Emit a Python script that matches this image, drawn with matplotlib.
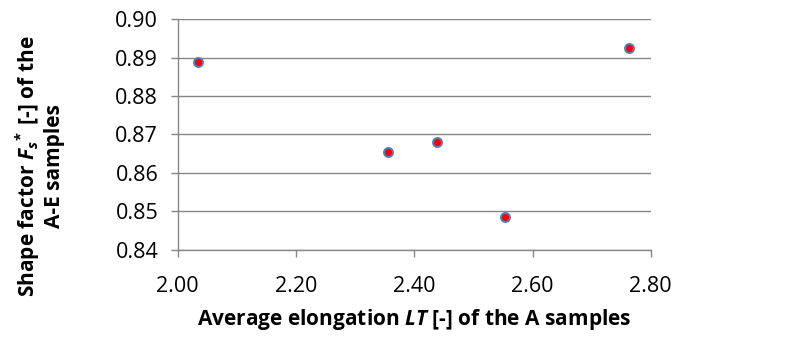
import matplotlib
matplotlib.use("Agg")
import matplotlib.pyplot as plt

plt.rcParams['font.family'] = ['Open Sans', 'DejaVu Sans']
plt.rcParams['mathtext.fontset'] = 'custom'
plt.rcParams['mathtext.rm'] = 'Open Sans:bold'
plt.rcParams['mathtext.bf'] = 'Open Sans:bold'
plt.rcParams['mathtext.it'] = 'Open Sans:bold:italic'
plt.rcParams['mathtext.bfit'] = 'Open Sans:bold:italic'

# elongation LT of the A samples vs shape factor Fs*
elongation = [2.035, 2.356, 2.439, 2.553, 2.763]
shape_factor = [0.8889, 0.8653, 0.8680, 0.8484, 0.8926]

xticks = [2.00, 2.20, 2.40, 2.60, 2.80]
yticks = [0.84, 0.85, 0.86, 0.87, 0.88, 0.89, 0.90]

grey = '#868686'

fig = plt.figure(figsize=(7.86, 3.41), dpi=100)
ax = fig.add_axes([0.226, 0.268, 0.602, 0.676])

ax.scatter(elongation, shape_factor, s=42, c='#ff0000',
           edgecolors='#4f81bd', linewidths=1.4, zorder=3)

ax.set_xlim(2.0, 2.8)
ax.set_ylim(0.84, 0.90)
ax.set_xticks(xticks)
ax.set_xticklabels(['%.2f' % v for v in xticks])
ax.set_yticks(yticks)
ax.set_yticklabels(['%.2f' % v for v in yticks])
ax.yaxis.grid(True, color=grey, linewidth=1.0)
ax.set_axisbelow(True)

for s in ['top', 'right']:
    ax.spines[s].set_visible(False)
for s in ['left', 'bottom']:
    ax.spines[s].set_color(grey)
    ax.spines[s].set_linewidth(1.0)
ax.tick_params(axis='both', colors=grey, labelcolor='black', labelsize=15.5,
               length=5, width=1.0, direction='out')
ax.tick_params(axis='x', pad=14)
ax.tick_params(axis='y', pad=9)

ax.set_xlabel(r'Average elongation $\mathit{LT}$ [-] of the A samples',
              fontsize=15, fontweight='bold', labelpad=7)
ax.set_ylabel('Shape factor $\\mathit{F_s}^{\\!*}$ [-] of the\nA-E samples',
              fontsize=15, fontweight='bold', linespacing=1.15)
ax.yaxis.set_label_coords(-0.238, 0.363)

fig.savefig('out.png', dpi=100)
